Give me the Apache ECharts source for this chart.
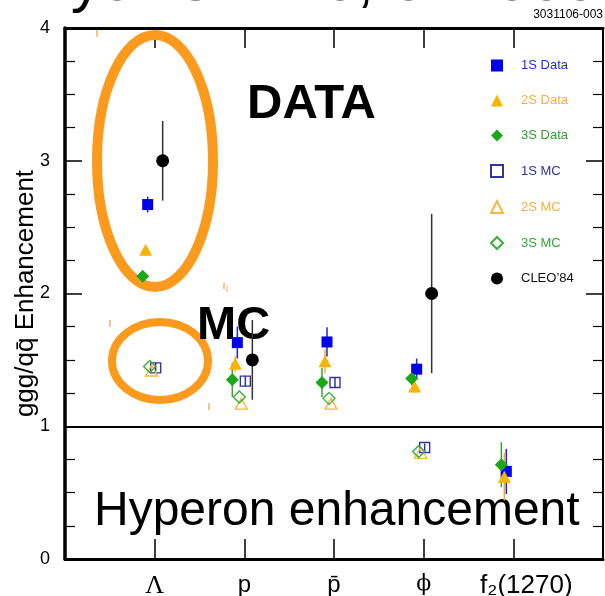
<!DOCTYPE html>
<html>
<head>
<meta charset="utf-8">
<title>ggg/qq̄ Enhancement</title>
<script src="https://cdn.jsdelivr.net/npm/echarts@6/dist/echarts.min.js"></script>
<style>
  html, body { margin: 0; padding: 0; background: #ffffff; }
  #chart { width: 605px; height: 596px; }
</style>
</head>
<body>
<div id="chart"></div>
<script>
// Particle species along the x axis (positions 1..5)
const categories = ['Λ', 'p', 'p̄', 'ϕ', 'f₂(1270)'];

// Enhancement ratios per species (null = not measured)
const s1Data    = [2.67, 1.63, 1.635, 1.43, 0.66];
const s1DataErr = [0.06, 0.12, 0.11, 0.08, 0.17];
const s2Data    = [2.33, 1.47, 1.49, 1.30, 0.62];
const s2DataErr = [0.02, 0.06, 0.09, 0.05, 0.18];
const s3Data    = [2.13, 1.35, 1.33, 1.36, 0.71];
const s3DataErr = [0.02, 0.13, 0.11, 0.05, 0.17];
const s1MC      = [1.44, 1.34, 1.33, 0.84, null];
const s1MCErr   = [0.04, 0.04, 0.04, 0.03, null];
const s2MC      = [1.42, 1.17, 1.17, 0.80, null];
const s3MC      = [1.45, 1.22, 1.21, 0.81, null];
const cleo84    = [3.00, 1.50, null, 2.00, null];
const cleo84Err = [0.30, 0.30, null, 0.60, null];

const FONT = '"Liberation Sans", Arial, Helvetica, sans-serif';
const SERIF = '"Liberation Serif", "DejaVu Serif", serif';
const ORANGE = '#fb9a1c';

// marker styling, one entry per plotted group
const groups = [
  { name: '1S Data', vals: s1Data, errs: s1DataErr, symbol: 'rect', size: [11, 11], fill: '#0000ee', border: '#0000ee', off: -7, errColor: '#2222dd', text: '#2a2ad8' },
  { name: '2S Data', vals: s2Data, errs: s2DataErr, symbol: 'triangle', size: [13, 12], fill: '#f8b400', border: '#f8b400', off: -9, errColor: '#f0b020', text: '#f0b040' },
  { name: '3S Data', vals: s3Data, errs: s3DataErr, symbol: 'diamond', size: [13, 13], fill: '#1aa81a', border: '#1aa81a', off: -12, errColor: '#30a830', text: '#30a030' },
  { name: '1S MC', vals: s1MC, errs: s1MCErr, symbol: 'rect', size: [10, 10], fill: 'rgba(255,255,255,0)', border: '#34349c', off: 1, errColor: '#34349c', text: '#32329a', hollow: true },
  { name: '2S MC', vals: s2MC, errs: null, symbol: 'triangle', size: [12, 11], fill: 'rgba(255,255,255,0)', border: '#f4b840', off: -3, errColor: '#f4b840', text: '#f0b040', hollow: true },
  { name: '3S MC', vals: s3MC, errs: null, symbol: 'diamond', size: [12, 12], fill: 'rgba(255,255,255,0)', border: '#38b038', off: -5, errColor: '#38b038', text: '#30a830', hollow: true },
  { name: "CLEO’84", vals: cleo84, errs: cleo84Err, symbol: 'circle', size: [13, 13], fill: '#000000', border: '#000000', off: 8, errColor: '#333333', text: '#111111' }
];

const series = [];
groups.forEach(function (g) {
  if (g.errs) {
    const errData = [];
    g.vals.forEach(function (v, i) {
      if (v != null && g.errs[i] != null) errData.push([i + 1, v - g.errs[i], v + g.errs[i]]);
    });
    series.push({
      type: 'custom',
      name: g.name + ' err',
      z: 4,
      silent: true,
      data: errData,
      encode: { x: 0, y: [1, 2] },
      renderItem: function (params, api) {
        const lo = api.coord([api.value(0), api.value(1)]);
        const hi = api.coord([api.value(0), api.value(2)]);
        return {
          type: 'line',
          shape: { x1: lo[0] + g.off, y1: lo[1], x2: hi[0] + g.off, y2: hi[1] },
          style: { stroke: g.errColor, lineWidth: 1.5 }
        };
      }
    });
  }
  const pts = [];
  g.vals.forEach(function (v, i) { if (v != null) pts.push([i + 1, v]); });
  series.push({
    type: 'scatter',
    name: g.name,
    z: 5,
    symbol: g.symbol,
    symbolSize: g.size,
    symbolOffset: [g.off, 0],
    itemStyle: { color: g.fill, borderColor: g.border, borderWidth: g.hollow ? 1.4 : 0, opacity: 1 },
    data: pts
  });
});

// separator line between the upper and lower panels
series.push({
  type: 'line',
  name: 'divider',
  data: [],
  silent: true,
  markLine: {
    silent: true,
    symbol: 'none',
    label: { show: false },
    lineStyle: { color: '#000', width: 2, type: 'solid' },
    data: [{ yAxis: 1 }]
  }
});

const chart = echarts.init(document.getElementById('chart'), null, { renderer: 'canvas' });

const tickStyle = { color: '#000', width: 1.5 };
const minorStyle = { color: '#000', width: 1.2 };

chart.setOption({
  animation: false,
  backgroundColor: '#ffffff',
  grid: { left: 65, right: 2, top: 28, bottom: 37, containLabel: false, outerBoundsMode: 'none' },
  legend: {
    orient: 'vertical',
    left: 485,
    top: 54,
    padding: 5,
    itemWidth: 12,
    itemHeight: 12,
    itemGap: 22,
    selectedMode: false,
    textStyle: { fontFamily: FONT, fontSize: 13, padding: [0, 0, 0, 13] },
    data: groups.map(function (g) {
      return { name: g.name, textStyle: { color: g.text } };
    })
  },
  xAxis: [
    {
      type: 'value', min: 0, max: 6, interval: 1, position: 'bottom',
      axisLine: { onZero: false, lineStyle: { color: '#000', width: 3 } },
      axisTick: { inside: true, length: 20, lineStyle: tickStyle },
      splitLine: { show: false },
      axisLabel: {
        margin: 14,
        fontFamily: FONT,
        fontSize: 24,
        color: '#000',
        formatter: function (v) {
          const c = categories[v - 1];
          if (!c) return '';
          if (v === 1) return '{serif|' + c + '}';
          if (v === 4) return '{phi|' + c + '}';
          if (v === 5) return '{wide|' + c + '}';
          return c;
        },
        rich: {
          serif: { fontFamily: SERIF, fontSize: 26, color: '#000' },
          phi: { fontFamily: '"DejaVu Serif", serif', fontSize: 22, color: '#000' },
          wide: { fontFamily: FONT, fontSize: 26, color: '#000', padding: [0, 0, 0, 26] }
        }
      }
    },
    {
      type: 'value', min: 0, max: 6, interval: 1, position: 'top',
      axisLine: { onZero: false, lineStyle: { color: '#000', width: 3 } },
      axisTick: { inside: true, length: 20, lineStyle: tickStyle },
      axisLabel: { show: false },
      splitLine: { show: false }
    }
  ],
  yAxis: [
    {
      type: 'value', min: 0, max: 4, interval: 1, position: 'left',
      name: 'ggg/qq̄ Enhancement',
      nameLocation: 'middle',
      nameGap: 26,
      nameMoveOverlap: false,
      nameTextStyle: { fontFamily: FONT, fontSize: 26, color: '#000' },
      axisLine: { onZero: false, lineStyle: { color: '#000', width: 3.5 } },
      axisTick: { inside: true, length: 17, lineStyle: tickStyle },
      minorTick: { show: true, splitNumber: 4, length: 10, lineStyle: minorStyle },
      splitLine: { show: false },
      axisLabel: { margin: 15, fontFamily: FONT, fontSize: 18, color: '#000' }
    },
    {
      type: 'value', min: 0, max: 4, interval: 1, position: 'right',
      axisLine: { show: true, onZero: false, lineStyle: { color: '#000', width: 2 } },
      axisTick: { show: true, inside: true, length: 17, lineStyle: tickStyle },
      minorTick: { show: true, splitNumber: 4, length: 10, lineStyle: minorStyle },
      splitLine: { show: false },
      axisLabel: { show: false }
    }
  ],
  graphic: [
    // journal reference, mostly clipped by the top edge
    { type: 'text', left: -5, top: -48, z: 1, silent: true,
      style: { text: 'PhysRevD76, 012005', font: '62px ' + FONT, fill: '#000' } },
    { type: 'text', right: 2, top: 9, z: 1, silent: true,
      style: { text: '3031106-003', font: '12px ' + FONT, fill: '#000' } },
    // highlighted regions
    { type: 'ellipse', z: 1, silent: true,
      shape: { cx: 155, cy: 161, rx: 58, ry: 126 },
      style: { fill: 'none', stroke: ORANGE, lineWidth: 10 } },
    { type: 'ellipse', z: 1, silent: true,
      shape: { cx: 160, cy: 361, rx: 48, ry: 39 },
      style: { fill: 'none', stroke: ORANGE, lineWidth: 8 } },
    // annotations
    { type: 'text', left: 247, top: 80, z: 2, silent: true,
      style: { text: 'DATA', font: 'bold 49px ' + FONT, fill: '#000' } },
    { type: 'text', left: 197, top: 303, z: 2, silent: true,
      style: { text: 'MC', font: 'bold 47px ' + FONT, fill: '#000' } },
    { type: 'text', left: 94, top: 488, z: 2, silent: true,
      style: { text: 'Hyperon enhancement', font: '48px ' + FONT, fill: '#000' } },
    // small orange specks
    { type: 'line', z: 1, silent: true, shape: { x1: 97, y1: 30, x2: 97, y2: 37 }, style: { stroke: '#f5b060', lineWidth: 1.5 } },
    { type: 'line', z: 1, silent: true, shape: { x1: 224, y1: 283, x2: 224, y2: 289 }, style: { stroke: '#f5b060', lineWidth: 1.5 } },
    { type: 'line', z: 1, silent: true, shape: { x1: 227, y1: 286, x2: 227, y2: 292 }, style: { stroke: '#f5c080', lineWidth: 1.2 } },
    { type: 'line', z: 1, silent: true, shape: { x1: 110, y1: 320, x2: 110, y2: 327 }, style: { stroke: '#f5b060', lineWidth: 1.5 } },
    { type: 'line', z: 1, silent: true, shape: { x1: 209, y1: 403, x2: 209, y2: 410 }, style: { stroke: '#f5b060', lineWidth: 1.5 } }
  ],
  series: series
});
</script>
</body>
</html>
